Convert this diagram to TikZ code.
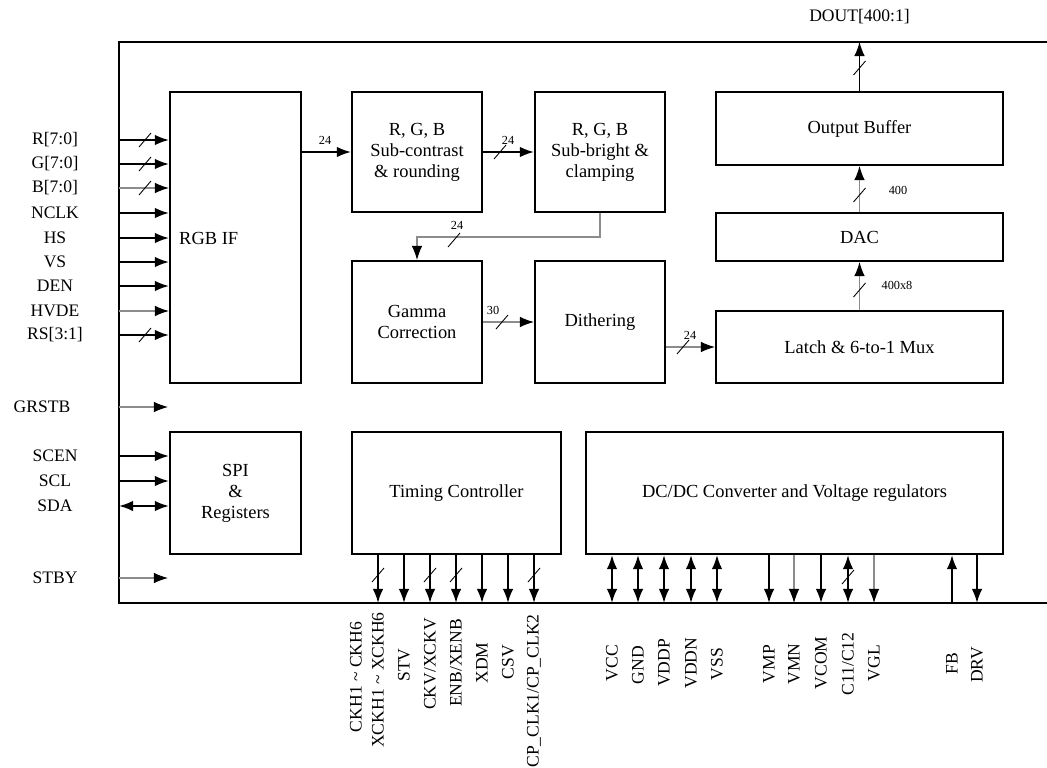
\documentclass[tikz,border=0pt]{standalone}
\usepackage{fontspec}
\setmainfont{Liberation Serif}
\usetikzlibrary{arrows.meta}

\tikzset{
  pics/busmark/.style={code={\draw[line width=0.5pt] (-6,7) -- (6,-7);}}
}

\begin{document}
\begin{tikzpicture}[
x=0.02cm, y=-0.02cm,
blk/.style={rectangle, draw, line width=1.2pt, inner sep=0pt, align=center, font=\fontsize{10.5}{12}\selectfont},
pinlbl/.style={font=\fontsize{10}{11}\selectfont},
vlbl/.style={pinlbl, rotate=90},
num/.style={font=\fontsize{7}{8}\selectfont},
sig/.style={line width=1.1pt, -{Latex[length=8pt,width=6pt]}},
dsig/.style={line width=1.1pt, {Latex[length=8pt,width=6pt]}-{Latex[length=8pt,width=6pt]}},
lite/.style={line width=0.6pt, draw=black!45, -{Latex[length=8pt,width=6pt,black]}},
outsig/.style={line width=0.7pt, -{Latex[length=8pt,width=6pt]}},
]
\useasboundingbox (0,0) rectangle (1047,767);

% chip frame
\draw[line width=1.5pt] (1047,42) -- (119,42) -- (119,603) -- (1047,603);

% blocks
\node[blk, minimum width=2.62cm, minimum height=5.82cm] (rgbif) at (235.5,237.5) {};
\node[anchor=west, font=\fontsize{10.5}{12}\selectfont] (rgbiftxt) at (173,238) {RGB IF};
\node[blk, minimum width=2.6cm, minimum height=2.4cm] (subc) at (417,152) {R, G, B\\Sub-contrast\\\& rounding};
\node[blk, minimum width=2.6cm, minimum height=2.4cm] (subb) at (600,152) {R, G, B\\Sub-bright \&\\clamping};
\node[blk, minimum width=2.6cm, minimum height=2.44cm] (gamma) at (417,322) {Gamma\\Correction};
\node[blk, minimum width=2.6cm, minimum height=2.44cm] (dith) at (600,322) {Dithering};
\node[blk, minimum width=5.74cm, minimum height=1.46cm] (obuf) at (859.5,128.5) {Output Buffer};
\node[blk, minimum width=5.74cm, minimum height=0.96cm] (dac) at (859.5,237) {DAC};
\node[blk, minimum width=5.74cm, minimum height=1.44cm] (latch) at (859.5,347) {Latch \& 6-to-1 Mux};
\node[blk, minimum width=2.62cm, minimum height=2.44cm] (spi) at (235.5,493) {SPI\\\&\\Registers};
\node[blk, minimum width=4.18cm, minimum height=2.44cm] (tcon) at (456.5,493) {Timing Controller};
\node[blk, minimum width=8.34cm, minimum height=2.44cm] (dcdc) at (794.5,493) {DC/DC Converter and Voltage regulators};

% inputs
\foreach \nm/\yy/\st/\sl in {R[7:0]/140/sig/1, G[7:0]/164/sig/1, B[7:0]/188/lite/1, NCLK/213/sig/0, HS/238/sig/0, VS/262/sig/0, DEN/286/sig/0, HVDE/311/lite/0, RS[3:1]/335/sig/1}{
  \node[pinlbl] (in\yy) at (55,\yy) {\nm};
  \coordinate (p\yy) at (119,\yy);
  \draw[\st] (p\yy) -- (p\yy -| rgbif.west);
  \ifnum\sl=1 \pic at (145,\yy) {busmark}; \fi
}
\node[pinlbl] (grstb) at (42,407) {GRSTB};
\coordinate (pgrstb) at (119,407);
\coordinate (egrstb) at (168,407);
\draw[lite] (pgrstb) -- (egrstb);
\node[pinlbl] (scen) at (55,456) {SCEN};
\coordinate (pscen) at (119,456);
\draw[sig] (pscen) -- (pscen -| spi.west);
\node[pinlbl] (scl) at (55,481) {SCL};
\coordinate (pscl) at (119,481);
\draw[sig] (pscl) -- (pscl -| spi.west);
\node[pinlbl] (sda) at (55,506) {SDA};
\coordinate (psda) at (119,506);
\draw[dsig] (psda) -- (psda -| spi.west);
\node[pinlbl] (stby) at (55,578) {STBY};
\coordinate (pstby) at (119,578);
\coordinate (estby) at (168,578);
\draw[lite] (pstby) -- (estby);

% data path
\draw[sig] (rgbif.east |- subc.west) -- (subc.west);
\node[num] at (325,140) {24};
\draw[sig] (subc) -- (subb);
\pic at (500,152) {busmark};
\node[num] at (508,140) {24};
\draw[lite] (subb.south) |- (gamma.north |- 0,237) -- (gamma.north);
\pic at (454,240) {busmark};
\node[num] at (457,225) {24};
\draw[lite] (gamma) -- (dith);
\pic at (502,322) {busmark};
\node[num] at (493,310) {30};
\draw[lite] (dith.east |- latch.west) -- (latch.west);
\pic at (683,347) {busmark};
\node[num] at (690,335) {24};
\draw[lite] (latch) -- (dac);
\pic at (859.5,290) {busmark};
\node[num] at (897,285) {400x8};
\draw[lite] (dac) -- (obuf);
\pic at (859.5,195) {busmark};
\node[num] at (898,190) {400};
\coordinate (dout) at (859.5,42);
\draw[outsig] (obuf.north) -- (dout);
\pic at (859.5,68) {busmark};
\node[pinlbl] (doutlbl) at (859.5,17) {DOUT[400:1]};

% timing controller pins
\coordinate (t1) at (378,603);
\draw[sig] (t1 |- tcon.south) -- (t1);
\pic at (378,575) {busmark};
\coordinate (t2) at (404,603);
\draw[sig] (t2 |- tcon.south) -- (t2);
\coordinate (t3) at (430,603);
\draw[sig] (t3 |- tcon.south) -- (t3);
\pic at (430,575) {busmark};
\coordinate (t4) at (456,603);
\draw[sig] (t4 |- tcon.south) -- (t4);
\pic at (456,575) {busmark};
\coordinate (t5) at (482,603);
\draw[sig] (t5 |- tcon.south) -- (t5);
\coordinate (t6) at (508,603);
\draw[sig] (t6 |- tcon.south) -- (t6);
\coordinate (t7) at (534,603);
\draw[sig] (t7 |- tcon.south) -- (t7);
\pic at (534,575) {busmark};
\node[vlbl] (ckh) at (356,677) {CKH1 \textasciitilde{} CKH6};
\node[vlbl] (xckh) at (378,680) {XCKH1 \textasciitilde{} XCKH6};
\node[vlbl] (stv) at (404,665) {STV};
\node[vlbl] (ckv) at (430,664) {CKV/XCKV};
\node[vlbl] (enb) at (456,663) {ENB/XENB};
\node[vlbl] (xdm) at (482,663) {XDM};
\node[vlbl] (csv) at (508,662) {CSV};
\node[vlbl] (cpclk) at (534,691) {CP\_CLK1/CP\_CLK2};

% dc/dc pins
\coordinate (d1) at (612,603);
\draw[dsig] (d1 |- dcdc.south) -- (d1);
\coordinate (d2) at (638,603);
\draw[dsig] (d2 |- dcdc.south) -- (d2);
\coordinate (d3) at (664,603);
\draw[dsig] (d3 |- dcdc.south) -- (d3);
\coordinate (d4) at (691,603);
\draw[dsig] (d4 |- dcdc.south) -- (d4);
\coordinate (d5) at (717,603);
\draw[dsig] (d5 |- dcdc.south) -- (d5);
\coordinate (d6) at (769,603);
\draw[sig] (d6 |- dcdc.south) -- (d6);
\coordinate (d7) at (794,603);
\draw[lite] (d7 |- dcdc.south) -- (d7);
\coordinate (d8) at (821,603);
\draw[sig] (d8 |- dcdc.south) -- (d8);
\coordinate (d9) at (848,603);
\draw[dsig] (d9 |- dcdc.south) -- (d9);
\pic at (848,577) {busmark};
\coordinate (d10) at (874,603);
\draw[lite] (d10 |- dcdc.south) -- (d10);
\coordinate (d11) at (952,603);
\draw[sig] (d11) -- (d11 |- dcdc.south);
\coordinate (d12) at (977,603);
\draw[sig] (d12 |- dcdc.south) -- (d12);
\node[vlbl] (vcc) at (612,663) {VCC};
\node[vlbl] (gnd) at (638,665) {GND};
\node[vlbl] (vddp) at (664,663) {VDDP};
\node[vlbl] (vddn) at (691,663) {VDDN};
\node[vlbl] (vss) at (717,664) {VSS};
\node[vlbl] (vmp) at (769,664) {VMP};
\node[vlbl] (vmn) at (794,664) {VMN};
\node[vlbl] (vcom) at (821,663) {VCOM};
\node[vlbl] (c11) at (848,664) {C11/C12};
\node[vlbl] (vgl) at (874,663) {VGL};
\node[vlbl] (fb) at (952,664) {FB};
\node[vlbl] (drv) at (977,665) {DRV};
\end{tikzpicture}
\end{document}
